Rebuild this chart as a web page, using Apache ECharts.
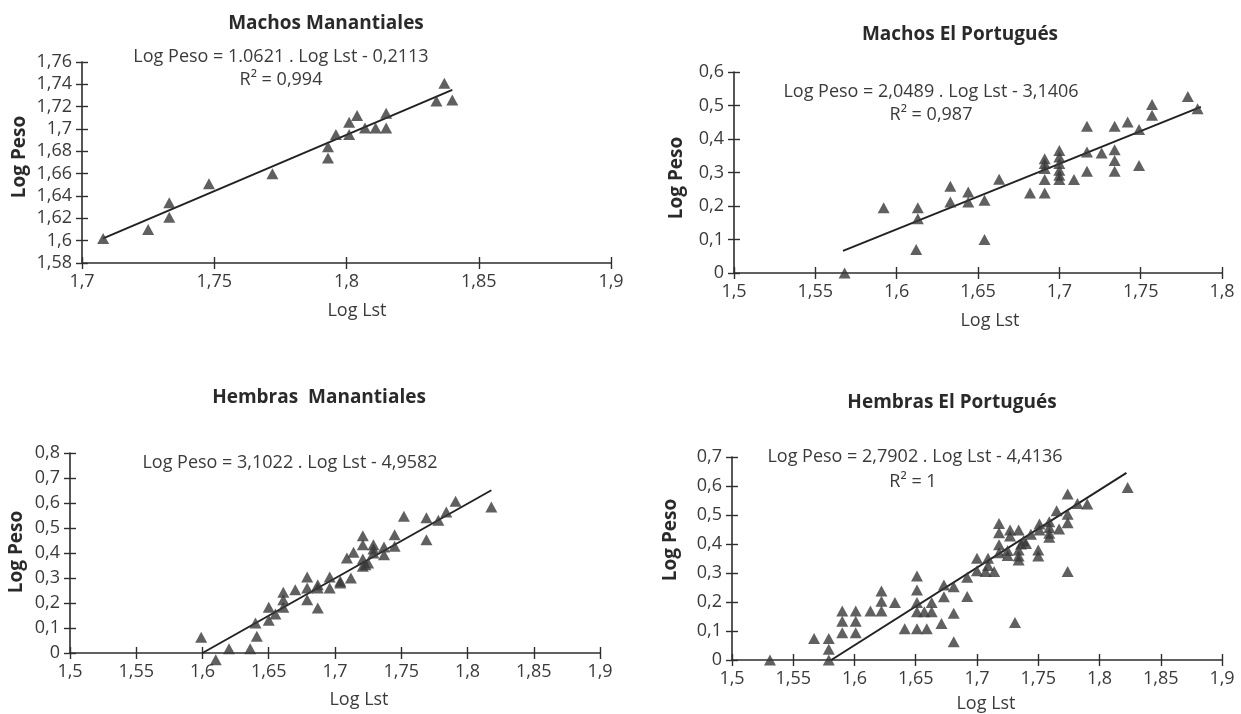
<!DOCTYPE html>
<html>
<head>
<meta charset="utf-8">
<script src="https://cdn.jsdelivr.net/npm/echarts@6/dist/echarts.min.js"></script>
<style>
  html, body { margin: 0; padding: 0; background: #fff; }
  #chart { width: 1241px; height: 714px; }
</style>
</head>
<body>
<div id="chart"></div>
<script>
// ---------- Data ----------
const titles = ['Machos Manantiales', 'Machos El Portugués', 'Hembras  Manantiales', 'Hembras El Portugués'];
const equations = [
  'Log Peso = 1.0621 . Log Lst - 0,2113',
  'Log Peso = 2,0489 . Log Lst - 3,1406',
  'Log Peso = 3,1022 . Log Lst - 4,9582',
  'Log Peso = 2,7902 . Log Lst - 4,4136'
];
const r2Texts = ['R² = 0,994', 'R² = 0,987', '', 'R² = 1'];
const xAxisName = 'Log Lst';
const yAxisName = 'Log Peso';

// Machos Manantiales
const m1Lst  = [1.708, 1.725, 1.733, 1.733, 1.748, 1.772, 1.793, 1.793, 1.796, 1.801, 1.801, 1.804, 1.807, 1.811, 1.815, 1.815, 1.834, 1.837, 1.840];
const m1Peso = [1.602, 1.610, 1.621, 1.634, 1.651, 1.660, 1.684, 1.674, 1.695, 1.706, 1.695, 1.712, 1.701, 1.701, 1.701, 1.714, 1.725, 1.741, 1.726];
const m1FitLst = [1.708, 1.840];
const m1FitPeso = [1.602, 1.735];
const m1XTicks = ['1,7', '1,75', '1,8', '1,85', '1,9'];
const m1YTicks = ['1,58', '1,6', '1,62', '1,64', '1,66', '1,68', '1,7', '1,72', '1,74', '1,76'];

// Machos El Portugués
const m2Lst  = [1.568, 1.592, 1.613, 1.613, 1.612, 1.633, 1.633, 1.644, 1.644, 1.654, 1.654, 1.663, 1.682, 1.691, 1.691, 1.691, 1.691, 1.691, 1.700, 1.700, 1.700, 1.700, 1.700, 1.700, 1.709, 1.717, 1.717, 1.717, 1.726, 1.734, 1.734, 1.734, 1.734, 1.742, 1.749, 1.749, 1.757, 1.757, 1.779, 1.785];
const m2Peso = [0.000, 0.195, 0.195, 0.162, 0.070, 0.259, 0.212, 0.242, 0.212, 0.217, 0.100, 0.280, 0.239, 0.239, 0.279, 0.312, 0.327, 0.341, 0.366, 0.346, 0.327, 0.307, 0.292, 0.279, 0.279, 0.438, 0.361, 0.304, 0.358, 0.438, 0.368, 0.336, 0.304, 0.451, 0.428, 0.321, 0.503, 0.471, 0.527, 0.490];
const m2FitLst = [1.567, 1.787];
const m2FitPeso = [0.066, 0.496];
const m2XTicks = ['1,5', '1,55', '1,6', '1,65', '1,7', '1,75', '1,8'];
const m2YTicks = ['0', '0,1', '0,2', '0,3', '0,4', '0,5', '0,6'];

// Hembras Manantiales
const h1Lst  = [1.599, 1.610, 1.620, 1.636, 1.641, 1.640, 1.650, 1.650, 1.655, 1.661, 1.661, 1.661, 1.670, 1.679, 1.679, 1.679, 1.687, 1.687, 1.687, 1.696, 1.696, 1.704, 1.704, 1.712, 1.709, 1.714, 1.721, 1.721, 1.721, 1.721, 1.723, 1.725, 1.729, 1.729, 1.729, 1.737, 1.737, 1.745, 1.745, 1.752, 1.769, 1.769, 1.778, 1.784, 1.791, 1.818];
const h1Peso = [0.063, -0.027, 0.017, 0.017, 0.067, 0.120, 0.131, 0.183, 0.156, 0.183, 0.213, 0.243, 0.253, 0.213, 0.260, 0.304, 0.180, 0.273, 0.260, 0.260, 0.304, 0.287, 0.280, 0.300, 0.380, 0.403, 0.469, 0.433, 0.376, 0.347, 0.353, 0.360, 0.433, 0.416, 0.400, 0.424, 0.393, 0.473, 0.427, 0.547, 0.541, 0.453, 0.531, 0.564, 0.607, 0.584];
const h1FitLst = [1.600, 1.818];
const h1FitPeso = [0.000, 0.651];
const h1XTicks = ['1,5', '1,55', '1,6', '1,65', '1,7', '1,75', '1,8', '1,85', '1,9'];
const h1YTicks = ['0', '0,1', '0,2', '0,3', '0,4', '0,5', '0,6', '0,7', '0,8'];

// Hembras El Portugués
const h2Lst  = [1.531, 1.567, 1.579, 1.579, 1.579, 1.590, 1.590, 1.590, 1.601, 1.601, 1.601, 1.613, 1.622, 1.622, 1.622, 1.633, 1.641, 1.651, 1.651, 1.651, 1.651, 1.651, 1.657, 1.659, 1.663, 1.663, 1.671, 1.673, 1.673, 1.681, 1.681, 1.681, 1.692, 1.692, 1.700, 1.700, 1.709, 1.709, 1.707, 1.714, 1.718, 1.718, 1.718, 1.718, 1.727, 1.727, 1.725, 1.725, 1.734, 1.734, 1.734, 1.734, 1.736, 1.738, 1.740, 1.744, 1.751, 1.751, 1.750, 1.750, 1.759, 1.759, 1.759, 1.759, 1.765, 1.767, 1.774, 1.774, 1.774, 1.774, 1.782, 1.790, 1.823, 1.731];
const h2Peso = [0.000, 0.074, 0.074, 0.037, 0.000, 0.169, 0.134, 0.094, 0.169, 0.134, 0.094, 0.169, 0.169, 0.203, 0.238, 0.198, 0.108, 0.108, 0.290, 0.241, 0.198, 0.166, 0.166, 0.108, 0.166, 0.198, 0.126, 0.259, 0.218, 0.253, 0.161, 0.063, 0.285, 0.219, 0.351, 0.308, 0.351, 0.326, 0.305, 0.305, 0.471, 0.439, 0.397, 0.370, 0.448, 0.428, 0.378, 0.360, 0.448, 0.379, 0.359, 0.345, 0.400, 0.411, 0.402, 0.434, 0.469, 0.448, 0.379, 0.359, 0.477, 0.457, 0.437, 0.423, 0.515, 0.452, 0.572, 0.503, 0.473, 0.305, 0.540, 0.538, 0.595, 0.129];
const h2FitLst = [1.581, 1.822];
const h2FitPeso = [0.000, 0.645];
const h2XTicks = ['1,5', '1,55', '1,6', '1,65', '1,7', '1,75', '1,8', '1,85', '1,9'];
const h2YTicks = ['0', '0,1', '0,2', '0,3', '0,4', '0,5', '0,6', '0,7'];

// ---------- Layout / style ----------
const FONT = "'Open Sans', 'Noto Sans', 'DejaVu Sans', sans-serif";
const INK = '#2e2e2e';
const TXT = '#3a3a3a';

const panels = [
  { lst: m1Lst, peso: m1Peso, fx: m1FitLst, fy: m1FitPeso, xt: m1XTicks, yt: m1YTicks,
    xr: [1.7, 1.9, 0.05], yr: [1.58, 1.76, 0.02],
    grid: { left: 82, top: 62, width: 529, height: 201 },
    title: [326, 24], eq: [281, 57], r2: [281, 80], yname: [20, 157], xname: [357, 311] },
  { lst: m2Lst, peso: m2Peso, fx: m2FitLst, fy: m2FitPeso, xt: m2XTicks, yt: m2YTicks,
    xr: [1.5, 1.8, 0.05], yr: [0, 0.6, 0.1],
    grid: { left: 734, top: 72, width: 488, height: 201 },
    title: [960, 35], eq: [931, 92], r2: [931, 115], yname: [677, 178], xname: [990, 321] },
  { lst: h1Lst, peso: h1Peso, fx: h1FitLst, fy: h1FitPeso, xt: h1XTicks, yt: h1YTicks,
    xr: [1.5, 1.9, 0.05], yr: [0, 0.8, 0.1],
    grid: { left: 70, top: 453, width: 530, height: 200 },
    title: [319, 398], eq: [290, 463], r2: null, yname: [17, 552], xname: [359, 700] },
  { lst: h2Lst, peso: h2Peso, fx: h2FitLst, fy: h2FitPeso, xt: h2XTicks, yt: h2YTicks,
    xr: [1.5, 1.9, 0.05], yr: [0, 0.7, 0.1],
    grid: { left: 732, top: 457, width: 490, height: 203 },
    title: [952, 403], eq: [915, 457], r2: [913, 482], yname: [671, 540], xname: [986, 704] }
];

function zip(a, b) { return a.map((v, i) => [v, b[i]]); }
function labelFmt(ticks, min, step) {
  return function (v) {
    const i = Math.round((v - min) / step);
    return ticks[i] !== undefined ? ticks[i] : '';
  };
}

const grids = [], xAxes = [], yAxes = [], series = [], graphics = [];

panels.forEach((p, gi) => {
  grids.push(Object.assign({ containLabel: false }, p.grid));
  const axisLine = { show: true, lineStyle: { color: INK, width: 1.6 } };
  xAxes.push({
    type: 'value', gridIndex: gi, min: p.xr[0], max: p.xr[1], interval: p.xr[2],
    position: 'bottom', axisLine: axisLine, splitLine: { show: false },
    axisTick: { show: true, length: 6, lineStyle: { color: INK, width: 1.4 } },
    axisLabel: { margin: 10, fontSize: 18, color: TXT, fontFamily: FONT, formatter: labelFmt(p.xt, p.xr[0], p.xr[2]) }
  });
  yAxes.push({
    type: 'value', gridIndex: gi, min: p.yr[0], max: p.yr[1], interval: p.yr[2],
    position: 'left', axisLine: axisLine, splitLine: { show: false },
    axisTick: { show: true, length: 6, lineStyle: { color: INK, width: 1.4 } },
    axisLabel: { margin: 10, fontSize: 18, color: TXT, fontFamily: FONT, formatter: labelFmt(p.yt, p.yr[0], p.yr[2]) }
  });
});
// secondary axes for the inner half of the crossing ticks
panels.forEach((p, gi) => {
  xAxes.push({
    type: 'value', gridIndex: gi, min: p.xr[0], max: p.xr[1], interval: p.xr[2],
    position: 'bottom', axisLine: { show: false }, splitLine: { show: false }, axisLabel: { show: false },
    axisTick: { show: true, inside: true, length: 6, lineStyle: { color: INK, width: 1.4 } }
  });
  yAxes.push({
    type: 'value', gridIndex: gi, min: p.yr[0], max: p.yr[1], interval: p.yr[2],
    position: 'left', axisLine: { show: false }, splitLine: { show: false }, axisLabel: { show: false },
    axisTick: { show: true, inside: true, length: 6, lineStyle: { color: INK, width: 1.4 } }
  });
});

panels.forEach((p, gi) => {
  series.push({
    type: 'line', xAxisIndex: gi, yAxisIndex: gi, data: zip(p.fx, p.fy),
    showSymbol: false, symbol: 'none', clip: false, silent: true,
    lineStyle: { color: '#222', width: 2 }, z: 2
  });
  series.push({
    type: 'scatter', xAxisIndex: gi, yAxisIndex: gi, data: zip(p.lst, p.peso),
    symbol: 'triangle', symbolSize: [12, 11], clip: false,
    itemStyle: { color: '#383838' }, z: 3
  });

  const t = (pos, text, size, weight, rot) => ({
    type: 'text', x: pos[0], y: pos[1], rotation: rot || 0,
    style: { text: text, fontSize: size, fontWeight: weight, fill: weight === 'bold' ? '#2a2a2a' : TXT,
             fontFamily: FONT, align: 'center', verticalAlign: 'middle' }
  });
  graphics.push(t(p.title, titles[gi], 19, 'bold'));
  graphics.push(t(p.eq, equations[gi], 18, 'normal'));
  if (p.r2 && r2Texts[gi]) graphics.push(t(p.r2, r2Texts[gi], 18, 'normal'));
  graphics.push(t(p.xname, xAxisName, 18, 'normal'));
  graphics.push(t(p.yname, yAxisName, 19, 'bold', Math.PI / 2));
});

const chart = echarts.init(document.getElementById('chart'), null, { renderer: 'canvas' });
chart.setOption({
  backgroundColor: '#ffffff',
  animation: false,
  grid: grids,
  xAxis: xAxes,
  yAxis: yAxes,
  series: series,
  graphic: graphics
});
</script>
</body>
</html>
